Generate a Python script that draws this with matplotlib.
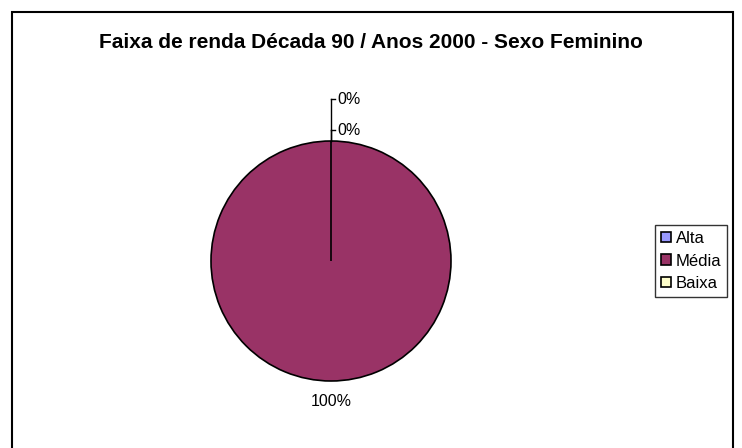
import matplotlib.pyplot as plt
import numpy as np
from matplotlib.patches import Rectangle

plt.rcParams['font.family'] = ['Liberation Sans', 'DejaVu Sans']

categorias = ['Alta', 'Média', 'Baixa']
valores = [0, 100, 0]
cores = ['#9999FF', '#993366', '#FFFFCC']
titulo = 'Faixa de renda Década 90 / Anos 2000 - Sexo Feminino'

W, H = 742, 448
R = 120.0  # pie radius in px
cx, cy = 331, 261  # pie centre in px (from top-left)

fig = plt.figure(figsize=(W / 100, H / 100), dpi=100)
ax = fig.add_axes([0, 0, 1, 1])

wedges, _ = ax.pie(valores, colors=cores, startangle=90, counterclock=False,
                   radius=1, center=(0, 0), frame=True,
                   wedgeprops=dict(edgecolor='black', linewidth=1.2))
ax.set_xlim(-cx / R, (W - cx) / R)
ax.set_ylim(-(H - cy) / R, cy / R)
ax.set_aspect('auto')
ax.axis('off')

# rótulos de percentagem
total = sum(valores)
ang = 90.0
zero_dist = [1.35, 1.09]
k = 0
for v, w in zip(valores, wedges):
    pct = '%d%%' % round(100 * v / total)
    span = 360.0 * v / total
    mid = np.deg2rad(ang - span / 2)
    if v == 0:
        d = zero_dist[k]
        k += 1
        ax.plot([0, 0], [1, d], color='black', lw=1)
        ax.plot([0, 0.035], [d, d], color='black', lw=1)
        ax.text(0.05, d, pct, ha='left', va='center', fontsize=11.5)
    else:
        ax.text(1.17 * np.cos(mid), 1.17 * np.sin(mid), pct,
                ha='center', va='center', fontsize=11.5)
    ang -= span

fig.text(371 / W, 1 - 43 / H, titulo, ha='center', va='center',
         fontsize=15, fontweight='bold')

leg = fig.legend(wedges, categorias, loc='center', bbox_to_anchor=(691 / W, 1 - 261 / H),
                 fontsize=12, frameon=True, fancybox=False, edgecolor='black',
                 handlelength=0.6, handleheight=0.6, handletextpad=0.3,
                 borderpad=0.35, labelspacing=0.45, borderaxespad=0)
leg.get_frame().set_linewidth(1)

fig.add_artist(Rectangle((12 / W, -0.02), (733 - 12) / W, (H - 12) / H + 0.02,
                         transform=fig.transFigure, fill=False,
                         edgecolor='black', linewidth=1.5))

fig.savefig('out.png', dpi=100)
